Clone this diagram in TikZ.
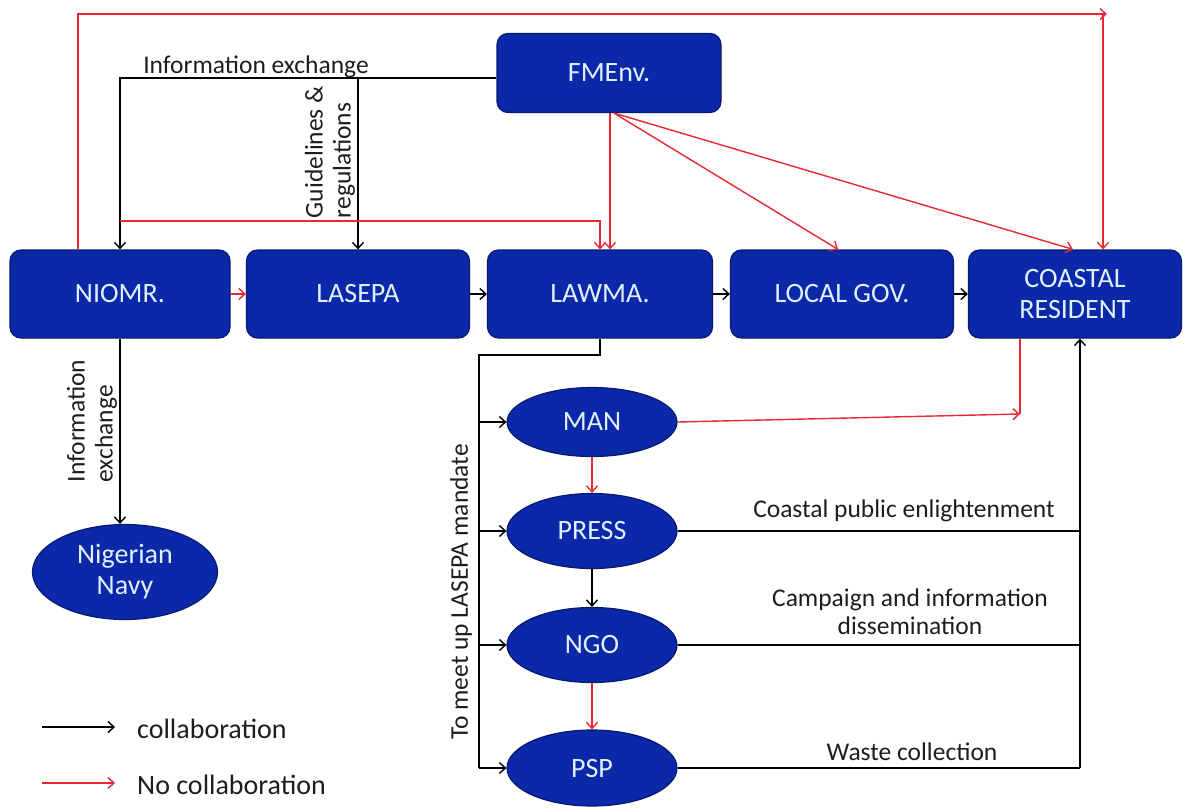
\documentclass[tikz,border=0pt]{standalone}
\usepackage{fontspec}
\setmainfont{Carlito}
\usetikzlibrary{arrows.meta,shapes.geometric}
\definecolor{boxfill}{RGB}{10,40,168}
\definecolor{boxedge}{RGB}{6,26,110}
\definecolor{boxtext}{RGB}{225,240,255}
\definecolor{redline}{RGB}{232,40,50}
\definecolor{labtext}{RGB}{30,30,30}
\begin{document}
\begin{tikzpicture}[x=1pt,y=-1pt,
  box/.style={draw=boxedge,line width=1.2pt,fill=boxfill,rounded corners=11pt,
    text=boxtext,font=\fontsize{28}{31}\selectfont,align=center,
    minimum height=88pt,inner sep=0pt},
  oval/.style={ellipse,draw=boxedge,line width=1.2pt,fill=boxfill,text=boxtext,
    font=\fontsize{28}{31}\selectfont,align=center,inner sep=0pt,minimum width=170pt},
  lab/.style={text=labtext,font=\fontsize{25.5}{28}\selectfont,inner sep=0pt},
  legtext/.style={text=labtext,font=\fontsize{28}{31}\selectfont,inner sep=0pt,anchor=west},
  bline/.style={draw=black,line width=1.4pt},
  rline/.style={draw=redline,line width=1.4pt},
  barr/.style={bline,-{Straight Barb[length=6pt,width=11pt]}},
  rarr/.style={rline,-{Straight Barb[length=6pt,width=11pt]}}]
\useasboundingbox (0,0) rectangle (1185,811);
\fill[white] (0,0) rectangle (1185,811);

% nodes
\node[box,minimum width=224pt,minimum height=79pt] (fme) at (609,73) {FMEnv.};
\node[box,minimum width=220pt] (niomr) at (120,294) {NIOMR.};
\node[box,minimum width=223pt] (lasepa) at (358,294) {LASEPA};
\node[box,minimum width=225pt] (lawma) at (600,294) {LAWMA.};
\node[box,minimum width=223pt] (local) at (842,294) {LOCAL GOV.};
\node[box,minimum width=213pt] (coastal) at (1075,294) {COASTAL\\RESIDENT};
\node[oval,minimum width=185pt,minimum height=95pt] (navy) at (125,572) {Nigerian\\Navy};
\node[oval,minimum height=69pt] (man) at (592,422) {MAN};
\node[oval,minimum height=75pt] (press) at (592,531) {PRESS};
\node[oval,minimum height=75pt] (ngo) at (592,645) {NGO};
\node[oval,minimum height=76pt] (psp) at (592,768) {PSP};

% labels
\node[lab] (lie) at (256,67) {Information exchange};
\node[lab,rotate=90,align=left] (lgr) at (330,152) {Guidelines \&\\regulations};
\node[lab,rotate=90,align=left] (lie2) at (92,421) {Information\\exchange};
\node[lab,rotate=90] (lmand) at (461,592) {To meet up LASEPA mandate};
\node[lab] (lcpe) at (904,511) {Coastal public enlightenment};
\node[lab,align=center] (lcid) at (910,612) {Campaign and information\\dissemination};
\node[lab] (lwc) at (912,752) {Waste collection};

% coordinates
\coordinate (tl) at (78,14);
\coordinate (tr) at (1107,14);
\coordinate (tv) at (1103,14);
\coordinate (ie) at (120,78);
\coordinate (rl) at (120,221);
\coordinate (bl) at (479,355);
\coordinate (mr) at (1020,414);
\coordinate (cr) at (1080,768);

% top red loop
\draw[rarr] (niomr.north -| tl) -- (tl) -- (tr);
\draw[rarr] (tv) -- (tv |- coastal.north);

% information exchange / guidelines
\draw[barr] ([yshift=-5pt]fme.west) -| (niomr.north);
\draw[barr] (lasepa.north |- ie) -- (lasepa.north);

% red to LAWMA
\draw[rarr] (rl) -| (lawma.north);
\draw[rarr] ([xshift=1pt]fme.south) -- ([xshift=1pt]fme.south |- lawma.north);
\draw[rarr] ([xshift=5pt]fme.south) -- ([xshift=-4pt]local.north);
\draw[rarr] ([xshift=5pt]fme.south) -- ([xshift=-2pt]coastal.north);

% row connectors
\draw[rarr] (niomr.east) -- (lasepa.west);
\draw[barr] (lasepa.east) -- (lawma.west);
\draw[barr] (lawma.east) -- (local.west);
\draw[barr] (local.east) -- (coastal.west);

% NIOMR to navy
\draw[barr] (niomr.south) -- (niomr.south |- navy.north);

% LAWMA branches
\draw[bline] (lawma.south) |- (bl) -- (bl |- psp.west);
\draw[barr] (bl |- man.west) -- (man.west);
\draw[barr] (bl |- press.west) -- (press.west);
\draw[barr] (bl |- ngo.west) -- (ngo.west);
\draw[barr] (bl |- psp.west) -- (psp.west);

% vertical chain
\draw[rarr] (man.south) -- (press.north);
\draw[barr] (press.south) -- (ngo.north);
\draw[rarr] (ngo.south) -- (psp.north);

% MAN to coastal (red)
\draw[rarr] (man.east) -- (mr);
\draw[rline] (mr) -- (mr |- coastal.south);

% black collector to coastal
\draw[bline] (psp.east) -- (cr);
\draw[barr] (cr) -- (cr |- coastal.south);
\draw[bline] (press.east) -- (press.east -| cr);
\draw[bline] (ngo.east) -- (ngo.east -| cr);

% legend
\coordinate (l1a) at (42,727);
\coordinate (l1b) at (115,727);
\coordinate (l2a) at (42,783);
\coordinate (l2b) at (115,783);
\draw[barr] (l1a) -- (l1b);
\draw[rarr] (l2a) -- (l2b);
\node[legtext] (leg1) at (137,729) {collaboration};
\node[legtext] (leg2) at (137,785) {No collaboration};
\end{tikzpicture}
\end{document}
